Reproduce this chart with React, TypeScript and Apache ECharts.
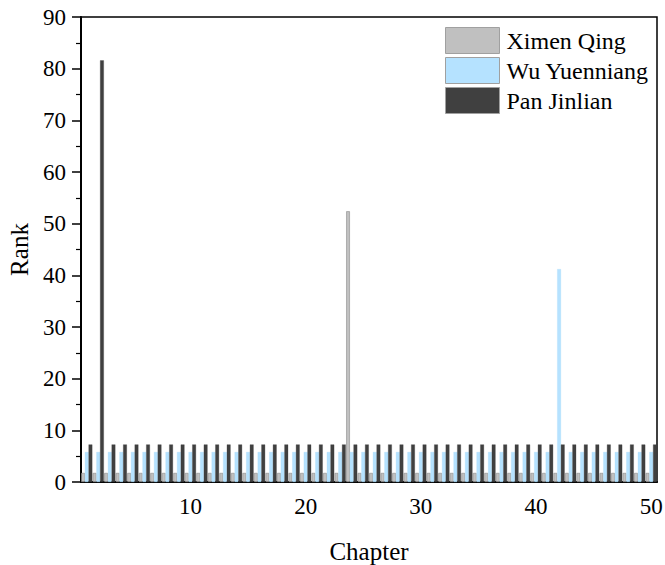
import React, { useEffect, useRef } from "react";
import * as echarts from "echarts";

const chapters: string[] = [
  "1","2","3","4","5","6","7","8","9","10",
  "11","12","13","14","15","16","17","18","19","20",
  "21","22","23","24","25","26","27","28","29","30",
  "31","32","33","34","35","36","37","38","39","40",
  "41","42","43","44","45","46","47","48","49","50",
];

const ximenQing: number[] = [
  1.75,1.75,1.75,1.75,1.75,1.75,1.75,1.75,1.75,1.75,
  1.75,1.75,1.75,1.75,1.75,1.75,1.75,1.75,1.75,1.75,
  1.75,1.75,1.75,52.4,1.75,1.75,1.75,1.75,1.75,1.75,
  1.75,1.75,1.75,1.75,1.75,1.75,1.75,1.75,1.75,1.75,
  1.75,1.75,1.75,1.75,1.75,1.75,1.75,1.75,1.75,1.75,
];

const wuYuenniang: number[] = [
  5.8,5.8,5.8,5.8,5.8,5.8,5.8,5.8,5.8,5.8,
  5.8,5.8,5.8,5.8,5.8,5.8,5.8,5.8,5.8,5.8,
  5.8,5.8,5.8,5.8,5.8,5.8,5.8,5.8,5.8,5.8,
  5.8,5.8,5.8,5.8,5.8,5.8,5.8,5.8,5.8,5.8,
  5.8,41.2,5.8,5.8,5.8,5.8,5.8,5.8,5.8,5.8,
];

const panJinlian: number[] = [
  7.25,81.6,7.25,7.25,7.25,7.25,7.25,7.25,7.25,7.25,
  7.25,7.25,7.25,7.25,7.25,7.25,7.25,7.25,7.25,7.25,
  7.25,7.25,7.25,7.25,7.25,7.25,7.25,7.25,7.25,7.25,
  7.25,7.25,7.25,7.25,7.25,7.25,7.25,7.25,7.25,7.25,
  7.25,7.25,7.25,7.25,7.25,7.25,7.25,7.25,7.25,7.25,
];

const seriesNames = ["Ximen Qing", "Wu Yuenniang", "Pan Jinlian"];
const FONT = "Liberation Serif";

export default function App() {
  const ref = useRef<HTMLDivElement>(null);
  useEffect(() => {
    if (!ref.current) return;
    const chart = echarts.init(ref.current, null, { renderer: "svg" });
    const styles = [
      { color: "#c0c0c0", borderColor: "#8c8c8c", borderWidth: 0.6 },
      { color: "#b5e2ff", borderColor: "#a6d8f7", borderWidth: 0.3 },
      { color: "#404040", borderColor: "#3a3a3a", borderWidth: 0.3 },
    ];
    const datas = [ximenQing, wuYuenniang, panJinlian];
    chart.setOption({
      animation: false,
      textStyle: { fontFamily: FONT },
      grid: {
        left: 81,
        right: 8,
        top: 17,
        bottom: 83,
        outerBoundsMode: "none",
        containLabel: false,
        show: true,
        borderColor: "#000",
        borderWidth: 1.5,
        backgroundColor: "transparent",
      },
      legend: {
        orient: "vertical",
        left: 445,
        top: 27,
        padding: 0,
        itemWidth: 54,
        itemHeight: 26,
        itemGap: 3,
        textStyle: { fontFamily: FONT, fontSize: 24, color: "#000", padding: [0, 0, 0, 2] },
        data: seriesNames.map((n) => ({
          name: n,
          icon: "rect",
          itemStyle: { borderColor: "#a0a0a0", borderWidth: 1 },
          textStyle: { fontFamily: FONT, fontSize: 24, color: "#000" },
        })),
      },
      xAxis: [
        {
          type: "category",
          data: chapters,
          boundaryGap: true,
          name: "Chapter",
          nameLocation: "middle",
          nameGap: 57,
          nameTextStyle: { fontFamily: FONT, fontSize: 25, color: "#000" },
          axisLine: { lineStyle: { color: "#000", width: 2 } },
          axisTick: {
            alignWithLabel: true,
            length: 8,
            lineStyle: { color: "#000", width: 1.5 },
            interval: (i: number) => (i + 1) % 10 === 0,
          },
          axisLabel: {
            interval: (i: number) => (i + 1) % 10 === 0,
            margin: 13,
            fontFamily: FONT,
            fontSize: 23,
            color: "#000",
          },
          splitLine: { show: false },
        },
        {
          type: "category",
          data: chapters,
          position: "bottom",
          boundaryGap: true,
          axisLine: { show: false },
          axisTick: {
            alignWithLabel: true,
            length: 4,
            lineStyle: { color: "#000", width: 1.2 },
            interval: (i: number) => (i + 1) % 5 === 0 && (i + 1) % 10 !== 0,
          },
          axisLabel: { show: false },
          splitLine: { show: false },
        },
      ],
      yAxis: {
        type: "value",
        min: 0,
        max: 90,
        interval: 10,
        name: "Rank",
        nameLocation: "middle",
        nameGap: 46,
        nameTextStyle: { fontFamily: FONT, fontSize: 25, color: "#000" },
        axisLine: { show: true, lineStyle: { color: "#000", width: 2 } },
        axisTick: { show: true, length: 9, lineStyle: { color: "#000", width: 1.5 } },
        minorTick: { show: true, splitNumber: 2, length: 5, lineStyle: { color: "#000", width: 1.2 } },
        axisLabel: { margin: 15, fontFamily: FONT, fontSize: 23, color: "#000" },
        splitLine: { show: false },
      },
      series: seriesNames.map((n, k) => ({
        name: n,
        type: "bar",
        xAxisIndex: 0,
        data: datas[k],
        barGap: "0%",
        barCategoryGap: "4%",
        itemStyle: styles[k],
      })),
    });
    return () => chart.dispose();
  }, []);
  return (
    <div
      ref={ref}
      style={{ position: "fixed", left: 0, top: 0, width: 665, height: 565, background: "#fff" }}
    />
  );
}
